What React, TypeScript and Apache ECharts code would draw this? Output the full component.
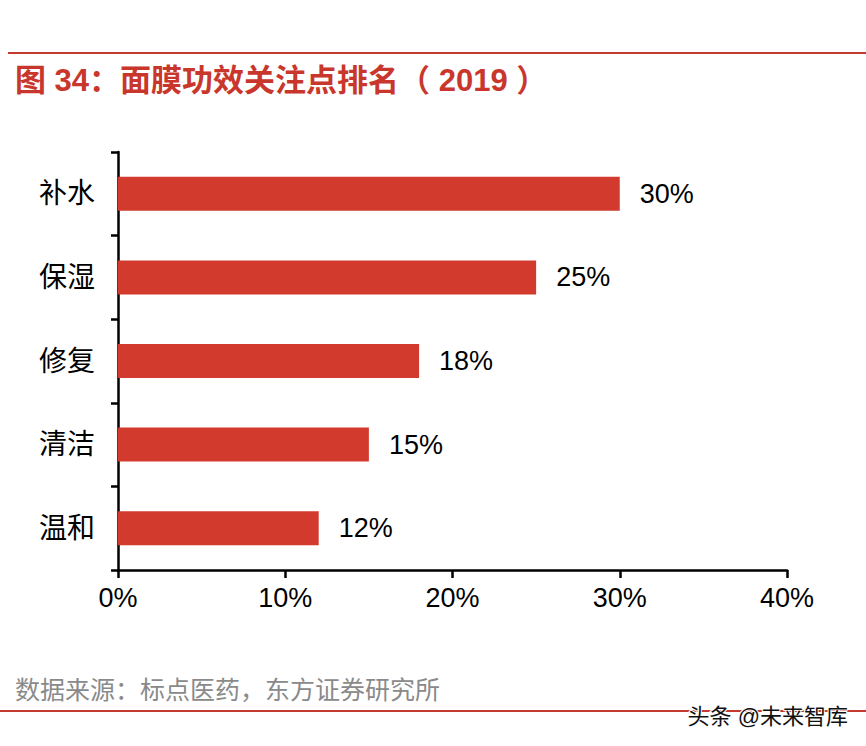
import React, { useEffect, useRef } from "react";
import * as echarts from "echarts";

const categories = ["补水", "保湿", "修复", "清洁", "温和"];
const values = [30, 25, 18, 15, 12];
const axisMin = 0;
const axisMax = 40;
const axisInterval = 10;
const titleText = "图 34：面膜功效关注点排名（ 2019 ）";
const sourceText = "数据来源：标点医药，东方证券研究所";
const watermarkText = "头条 @未来智库";

const FONT = "'Liberation Sans', 'Noto Sans CJK SC', sans-serif";
const RED = "#d13a2c";
const LINE_RED = "#c43a2e";

export default function App() {
  const ref = useRef<HTMLDivElement>(null);
  useEffect(() => {
    if (!ref.current) return;
    const chart = echarts.init(ref.current, null, { renderer: "svg" });
    chart.setOption({
      animation: false,
      backgroundColor: "#ffffff",
      textStyle: { fontFamily: FONT },
      grid: { left: 118, right: 79, top: 152, bottom: 176, containLabel: false },
      xAxis: {
        type: "value",
        min: axisMin,
        max: axisMax,
        interval: axisInterval,
        splitLine: { show: false },
        axisLine: { show: true, lineStyle: { color: "#000", width: 2.5 } },
        axisTick: { show: true, length: 8, lineStyle: { color: "#000", width: 2.5 } },
        axisLabel: {
          formatter: "{value}%",
          fontSize: 27,
          color: "#000",
          margin: 14,
          fontFamily: FONT,
        },
      },
      yAxis: {
        type: "category",
        data: categories,
        inverse: true,
        axisLine: { show: true, lineStyle: { color: "#000", width: 2.5 } },
        axisTick: { show: true, length: 7, alignWithLabel: false, lineStyle: { color: "#000", width: 2.5 } },
        axisLabel: { fontSize: 28, color: "#000", margin: 23, fontFamily: FONT },
      },
      series: [
        {
          type: "bar",
          data: values,
          barWidth: 34,
          itemStyle: { color: RED },
          label: {
            show: true,
            position: "right",
            distance: 20,
            formatter: "{c}%",
            fontSize: 27,
            color: "#000",
            fontFamily: FONT,
          },
        },
      ],
      graphic: [
        {
          type: "line",
          shape: { x1: 8, y1: 53, x2: 866, y2: 53 },
          style: { stroke: LINE_RED, lineWidth: 2 },
        },
        {
          type: "text",
          x: 15,
          y: 80,
          style: {
            text: titleText,
            fill: "#c9372c",
            font: `bold 31px ${FONT}`,
            verticalAlign: "middle",
          },
        },
        {
          type: "text",
          x: 15,
          y: 690,
          style: {
            text: sourceText,
            fill: "#8a8a8a",
            font: `25px ${FONT}`,
            verticalAlign: "middle",
          },
        },
        {
          type: "line",
          shape: { x1: 0, y1: 711, x2: 866, y2: 711 },
          style: { stroke: LINE_RED, lineWidth: 2 },
        },
        {
          type: "text",
          x: 848,
          y: 716,
          style: {
            text: watermarkText,
            fill: "#111",
            stroke: "#fff",
            lineWidth: 2,
            font: `22px ${FONT}`,
            align: "right",
            verticalAlign: "middle",
          },
        },
      ],
    });
    return () => chart.dispose();
  }, []);
  return (
    <div
      ref={ref}
      style={{ position: "fixed", left: 0, top: 0, width: 866, height: 746 }}
    />
  );
}
